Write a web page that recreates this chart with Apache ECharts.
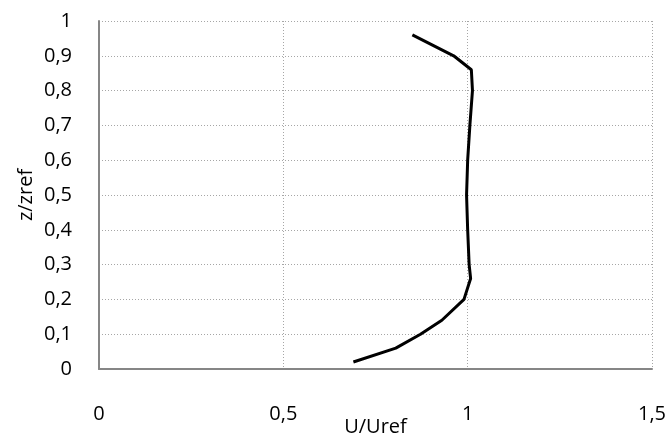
<!DOCTYPE html>
<html lang="en">
<head>
    <meta charset="UTF-8">
    <title>U/Uref profile</title>
    <style>
        body{
            margin: 0;
            background-color: #ffffff;
        }
        #chart{
            width: 670px;
            height: 436px;
        }
    </style>
</head>
<body>
<div id="chart"></div>
<script src="https://cdn.jsdelivr.net/npm/echarts@6/dist/echarts.min.js"></script>
<script>
    // profile
    var uRatio = [0.69, 0.805, 0.872, 0.93, 0.99, 1.008, 1.004, 1.0, 0.997, 1.0, 1.006, 1.013, 1.01, 0.962, 0.85];
    var zRatio = [0.02, 0.06, 0.10, 0.14, 0.20, 0.26, 0.30, 0.40, 0.50, 0.60, 0.70, 0.80, 0.86, 0.90, 0.96];

    var points = [];
    for (var i = 0; i < uRatio.length; i++) {
        points.push([uRatio[i], zRatio[i]]);
    }

    var fontFam = '"Open Sans", "Noto Sans", sans-serif';
    var chart = echarts.init(document.getElementById("chart"));

    var option = {
        animation: false,
        grid: {
            left: 99,
            right: 18,
            top: 21,
            bottom: 67,
            containLabel: false,
            outerBoundsMode: 'none'
        },
        xAxis: {
            type: 'value',
            min: 0,
            max: 1.5,
            interval: 0.5,
            name: 'U/Uref',
            nameLocation: 'middle',
            nameGap: 48,
            nameMoveOverlap: false,
            nameTextStyle: { color: '#000', fontSize: 20, fontFamily: fontFam },
            axisLine: { show: true, lineStyle: { color: '#868686', width: 2 } },
            axisTick: { show: false },
            axisLabel: {
                color: '#000', fontSize: 20, fontFamily: fontFam, margin: 35,
                formatter: function (v) { return String(v).replace('.', ','); }
            },
            splitLine: { show: true, lineStyle: { color: '#a6a6a6', type: [1, 2], width: 1 } }
        },
        yAxis: {
            type: 'value',
            min: 0,
            max: 1,
            interval: 0.1,
            name: 'z/zref',
            nameLocation: 'middle',
            nameGap: 63,
            nameMoveOverlap: false,
            nameTextStyle: { color: '#000', fontSize: 20, fontFamily: fontFam },
            axisLine: { show: true, lineStyle: { color: '#868686', width: 2 } },
            axisTick: { show: false },
            axisLabel: {
                color: '#000', fontSize: 20, fontFamily: fontFam, margin: 27,
                formatter: function (v) { return String(Math.round(v * 10) / 10).replace('.', ','); }
            },
            splitLine: { show: true, lineStyle: { color: '#a6a6a6', type: [1, 2], width: 1 } }
        },
        series: [{
            type: 'line',
            data: points,
            showSymbol: false,
            lineStyle: { color: '#000', width: 3 }
        }]
    };
    chart.setOption(option);
</script>
</body>
</html>
